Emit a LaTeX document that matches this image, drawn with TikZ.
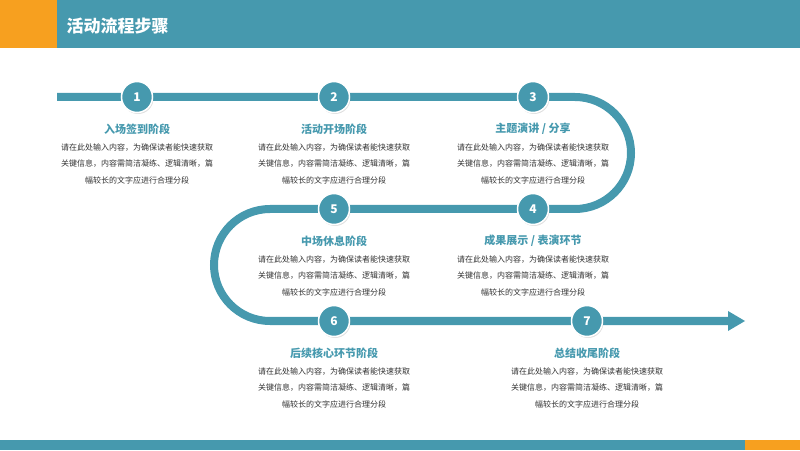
\documentclass[tikz,border=0pt]{standalone}
\usepackage{fontspec}
\setmainfont{Noto Sans CJK SC}
\usetikzlibrary{shadows}
\definecolor{kteal}{HTML}{4699AE}
\definecolor{korange}{HTML}{F7A01F}
\definecolor{ktext}{HTML}{333333}
\tikzset{
  knum/.style={circle,fill=kteal,draw=white,line width=1.5pt,minimum size=31pt,inner sep=0pt,
    text=white,font=\bfseries\fontsize{12}{12}\selectfont,drop shadow={opacity=0.25,shadow xshift=1pt,shadow yshift=-1.5pt}},
  ktitle/.style={text=kteal,font=\bfseries\fontsize{11}{12}\selectfont},
  kbody/.style={text=ktext,align=center,font=\fontsize{8}{16.5}\selectfont},
  ktrack/.style={draw=kteal,line width=8pt}
}
\newcommand{\kbodytext}{请在此处输入内容，为确保读者能快速获取\\关键信息，内容需简洁凝练、逻辑清晰，篇\\幅较长的文字应进行合理分段}
\begin{document}
\begin{tikzpicture}[x=1pt,y=1pt]
\useasboundingbox (0,0) rectangle (800,450);
% header and footer bars
\fill[korange] (0,402) rectangle (57,450);
\fill[kteal] (57,402) rectangle (800,450);
\node[anchor=west,text=white,font=\bfseries\fontsize{17}{17}\selectfont] (title) at (63,424) {活动流程步骤};
\fill[kteal] (0,0) rectangle (745,10);
\fill[korange] (745,0) rectangle (800,10);
% track
\coordinate (t0) at (57,353);
\coordinate (t1) at (575,353);
\coordinate (t2) at (270,241);
\coordinate (t3) at (730,129);
\draw[ktrack] (t0) -- (t1) arc(90:-90:56) -- (t2) arc(90:270:56) -- (t3);
\fill[kteal] (728,139) -- (745,129) -- (728,119) -- cycle;
% steps
\foreach \kn/\kx/\ky/\klb in {1/137/353/{入场签到阶段},2/334/353/{活动开场阶段},3/533/353/{主题演讲 / 分享},
  5/334/241/{中场休息阶段},4/533/241/{成果展示 / 表演环节},6/334/129/{后续核心环节阶段},7/587/129/{总结收尾阶段}}{
  \node[knum] (s\kn) at (\kx,\ky) {\kn};
  \node[ktitle] (h\kn) at (\kx,\ky-32) {\klb};
  \node[kbody,anchor=north] (b\kn) at (\kx,\ky-43) {\kbodytext};
}
\end{tikzpicture}
\end{document}
